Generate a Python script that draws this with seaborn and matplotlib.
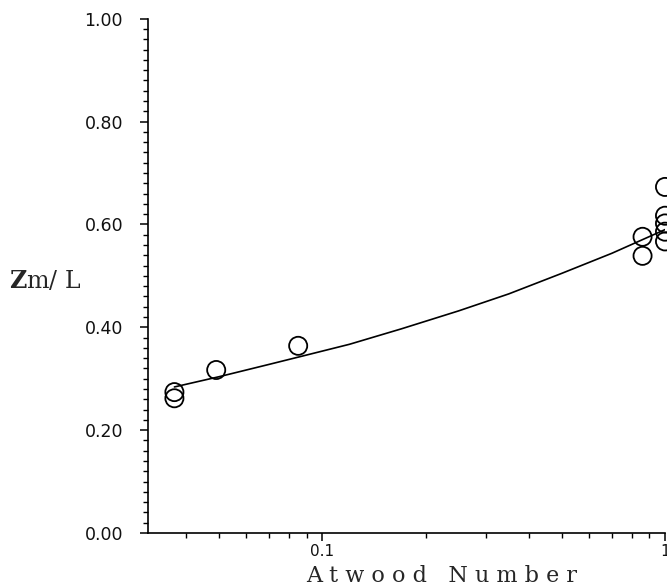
import numpy as np
import pandas as pd
import matplotlib
matplotlib.use("Agg")
import matplotlib.pyplot as plt
import matplotlib.ticker as mticker
import seaborn as sns

# data
atwood_pts = [0.037, 0.037, 0.049, 0.085, 0.86, 0.86, 1.0, 1.0, 1.0, 1.0, 1.0]
zm_pts = [0.274, 0.262, 0.317, 0.364, 0.576, 0.539, 0.673, 0.617, 0.602, 0.586, 0.567]

curve_atwood = [0.037, 0.05, 0.07, 0.085, 0.12, 0.17, 0.25, 0.35, 0.5, 0.7, 1.0]
curve_zm = [0.284, 0.304, 0.328, 0.342, 0.367, 0.397, 0.432, 0.465, 0.505, 0.544, 0.59]

x_ticks = [0.1, 1]
x_ticklabels = ["0.1", "1"]
y_ticks = [0.0, 0.2, 0.4, 0.6, 0.8, 1.0]
y_ticklabels = ["0.00", "0.20", "0.40", "0.60", "0.80", "1.00"]

sns.set_theme(style="ticks")
plt.rcParams['font.family'] = ['DejaVu Sans']
plt.rcParams['mathtext.fontset'] = 'dejavuserif'

pts = pd.DataFrame({"A": atwood_pts, "Z": zm_pts})
crv = pd.DataFrame({"A": curve_atwood, "Z": curve_zm})

fig = plt.figure(figsize=(6.67, 5.87), dpi=100)
ax = fig.add_axes([0.222, 0.092, 0.775, 0.876])

sns.lineplot(data=crv, x="A", y="Z", ax=ax, color="black", linewidth=1.2, sort=True)
sns.scatterplot(data=pts, x="A", y="Z", ax=ax, marker="o", s=170,
                facecolors="none", edgecolor="black", linewidth=1.3,
                clip_on=False, zorder=3)

ax.set_xscale("log")
ax.set_xlim(0.031, 1.0)
ax.set_ylim(0.0, 1.0)

ax.set_xticks(x_ticks)
ax.set_xticklabels(x_ticklabels)
ax.xaxis.set_minor_locator(mticker.LogLocator(base=10, subs=np.arange(2, 10)))
ax.xaxis.set_minor_formatter(mticker.NullFormatter())
ax.set_yticks(y_ticks)
ax.set_yticklabels(y_ticklabels)
ax.yaxis.set_minor_locator(mticker.MultipleLocator(0.02))

sns.despine(ax=ax)
for s in ["left", "bottom"]:
    ax.spines[s].set_linewidth(1.2)
    ax.spines[s].set_color("black")

ax.tick_params(axis="both", which="major", direction="out", length=6, width=1.1,
               color="black", labelcolor="#111111")
ax.tick_params(axis="both", which="minor", direction="out", length=3.5, width=1.0,
               color="black")
ax.tick_params(axis="y", labelsize=12.5, pad=12)
ax.tick_params(axis="x", labelsize=11, pad=2)

ax.set_xlabel("A t w o o d   N u m b e r", family="DejaVu Serif", fontsize=16)
ax.xaxis.set_label_coords(0.567, -0.062)
ax.set_ylabel(r"$\mathbf{Z}$m/ L", family="DejaVu Serif", fontsize=17, rotation=0,
              va="center")
ax.yaxis.set_label_coords(-0.2, 0.49)

fig.savefig("out.png", dpi=100)
